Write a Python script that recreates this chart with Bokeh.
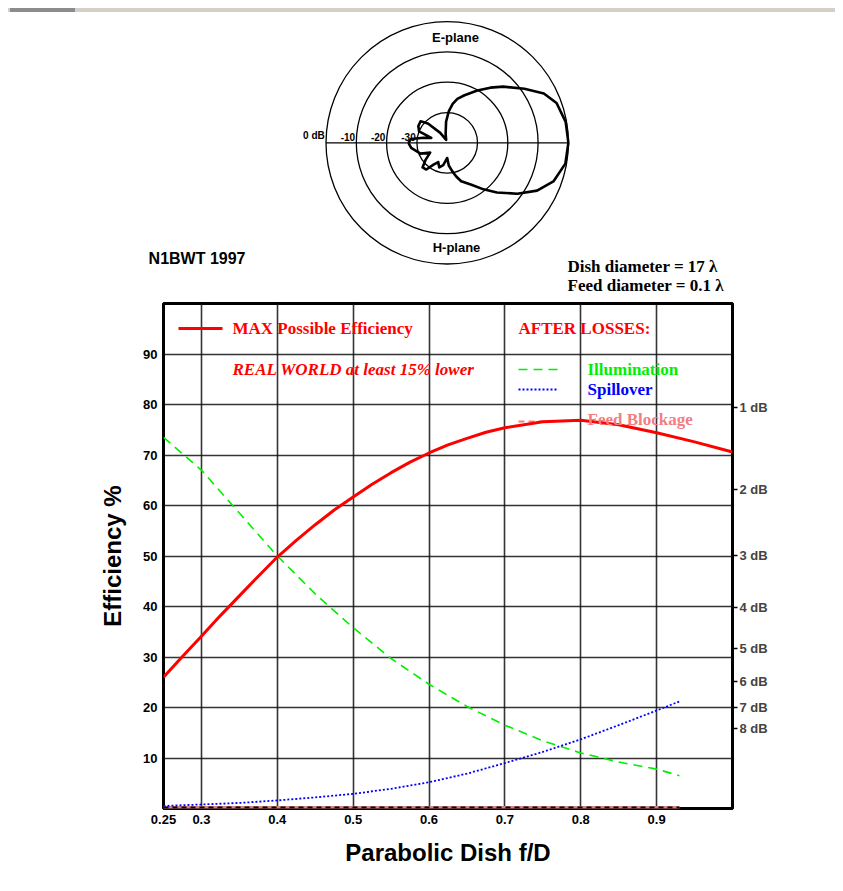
import numpy as np
from bokeh.plotting import figure
from bokeh.models import Range1d, LinearAxis, FixedTicker, Div
from bokeh.layouts import column
from bokeh.core.properties import value
from bokeh.embed import file_html
from bokeh.resources import INLINE

# ---------------- data ----------------
fd = [0.25, 0.275, 0.30, 0.325, 0.35, 0.375, 0.40, 0.425, 0.45, 0.475, 0.50, 0.525, 0.55, 0.575, 0.60,
      0.625, 0.65, 0.675, 0.70, 0.75, 0.80, 0.85, 0.90, 0.95, 1.00]
max_eff = [26.0, 30.1, 34.1, 38.2, 42.1, 46.0, 49.8, 53.1, 56.2, 59.1, 61.7, 64.2, 66.5, 68.6, 70.4,
           72.0, 73.3, 74.5, 75.4, 76.6, 76.9, 76.0, 74.4, 72.6, 70.6]

fd_loss = [0.25, 0.30, 0.35, 0.40, 0.45, 0.50, 0.55, 0.60, 0.65, 0.70, 0.75, 0.80, 0.85, 0.90, 0.93]
illumination = [73.5, 67.0, 58.5, 50.0, 42.5, 35.8, 29.7, 24.6, 20.2, 16.5, 13.4, 11.0, 9.2, 7.8, 6.5]
spillover = [0.5, 0.8, 1.1, 1.6, 2.2, 2.9, 3.9, 5.2, 6.9, 9.0, 11.2, 13.7, 16.5, 19.4, 21.2]
feed_blockage = [0.2, 0.2, 0.2, 0.2, 0.2, 0.2, 0.2, 0.2, 0.2, 0.2, 0.2, 0.2, 0.2, 0.2, 0.2]

x_ticks = [0.25, 0.3, 0.4, 0.5, 0.6, 0.7, 0.8, 0.9]
x_tick_labels = ["0.25", "0.3", "0.4", "0.5", "0.6", "0.7", "0.8", "0.9"]
x_grid = [0.3, 0.4, 0.5, 0.6, 0.7, 0.8, 0.9]
y_ticks = [10, 20, 30, 40, 50, 60, 70, 80, 90]
db_loss_ticks = [1, 2, 3, 4, 5, 6, 7, 8]

# feed pattern (angle in degrees, level in dB)
ring_db = [-30, -20, -10, 0]
ring_labels = ["-30", "-20", "-10", "0 dB"]
e_angle = [0, 10, 20, 27, 35, 45, 52, 60, 70, 77, 82, 87, 93, 100, 110, 125, 135, 141, 150, 158, 163, 168, 174, 180]
e_db = [0, -0.3, -1.6, -4.2, -8.9, -13.8, -16.9, -20.1, -23.3, -25.1, -27.0, -29.5, -33.0, -37.0, -39.0,
        -36.0, -31.0, -28.7, -29.0, -30.0, -34.5, -32.0, -28.0, -27.2]
h_angle = [0, 10, 20, 28, 36, 45, 52, 60, 70, 75, 80, 86, 90, 95, 100, 108, 115, 122, 128, 135, 142, 150,
           158, 165, 172, 180]
h_db = [0, -0.4, -2.7, -6.4, -11.4, -16.8, -20.5, -24.0, -26.5, -28.5, -30.5, -32.5, -35.0, -34.0, -32.5,
        -31.5, -33.0, -31.5, -28.8, -28.5, -31.0, -33.5, -30.5, -29.5, -28.0, -27.2]
DB_FLOOR = -40

SANS = value("Liberation Sans")
SERIF = value("Liberation Serif")

# ---------------- layout geometry (page pixels) ----------------
FRAME_L, FRAME_R = 163, 732
STRIP_H = 12
TOP_H = 288          # top figure spans page y 12..300
PX_PER_DB = 3.03
CX, CY = 446.7, 142.3


def ux(xp):
    return (xp - CX) / PX_PER_DB


def uy(yp):
    return (CY - yp) / PX_PER_DB


strip = Div(text='<div style="position:relative;width:835px;height:12px;">'
                 '<div style="position:absolute;left:8px;top:8px;width:827px;height:4px;background:#d4d0c8;"></div>'
                 '<div style="position:absolute;left:10px;top:8px;width:65px;height:4px;background:#8c8c8c;"></div>'
                 '</div>',
            width=835, height=STRIP_H, margin=0)

# ---------------- top figure: feed pattern ----------------
top = figure(frame_width=FRAME_R - FRAME_L, frame_height=TOP_H,
             x_range=Range1d(ux(FRAME_L), ux(FRAME_R)),
             y_range=Range1d(uy(STRIP_H + TOP_H), uy(STRIP_H)),
             x_axis_type=None, y_axis_type=None, toolbar_location=None, output_backend="svg",
             min_border_left=FRAME_L, min_border_right=100, min_border_top=0, min_border_bottom=0,
             outline_line_color=None)
top.xgrid.visible = False
top.ygrid.visible = False

radii = [d - DB_FLOOR for d in ring_db]
top.circle(x=[0] * len(radii), y=[0] * len(radii), radius=radii, fill_color=None,
           line_color="black", line_width=1.3)
top.line(x=[-max(radii), max(radii)], y=[0, 0], line_color="black", line_width=1.3)
top.text(x=[-(r + 0.4) for r in radii], y=[0.6] * len(radii), text=ring_labels,
         text_font=SANS, text_font_style="bold", text_font_size="10px",
         text_align="right", text_baseline="bottom", text_color="black")

ea = np.radians(e_angle)
er = np.clip(np.array(e_db) - DB_FLOOR, 0, None)
ha = np.radians(h_angle)
hr = np.clip(np.array(h_db) - DB_FLOOR, 0, None)
top.line(x=er * np.cos(ea), y=er * np.sin(ea), line_color="black", line_width=2.6, line_join="round")
top.line(x=hr * np.cos(ha), y=-hr * np.sin(ha), line_color="black", line_width=2.6, line_join="round")

top.text(x=[ux(455), ux(456)], y=[uy(37), uy(247)], text=["E-plane", "H-plane"],
         text_font=SANS, text_font_style="bold", text_font_size="13px",
         text_align="center", text_baseline="middle")
top.text(x=[ux(567), ux(567)], y=[uy(266), uy(285)],
         text=["Dish diameter = 17 \u03bb", "Feed diameter = 0.1 \u03bb"],
         text_font=SERIF, text_font_style="bold", text_font_size="17px",
         text_align="left", text_baseline="middle")

# author tag: straddles the frame edge, so it is set as a left-axis label
tag_y = uy(258)
tag_ax = LinearAxis(ticker=FixedTicker(ticks=[tag_y]), major_label_overrides={tag_y: "N1BWT 1997"})
tag_ax.axis_line_color = None
tag_ax.major_tick_out = 0
tag_ax.major_tick_in = 0
tag_ax.minor_tick_out = 0
tag_ax.minor_tick_in = 0
tag_ax.major_label_text_font = "Liberation Sans"
tag_ax.major_label_text_font_style = "bold"
tag_ax.major_label_text_font_size = "16px"
tag_ax.major_label_text_color = "black"
tag_ax.major_label_standoff = 163 - 245
top.add_layout(tag_ax, "left")

# ---------------- main figure ----------------
p = figure(frame_width=FRAME_R - FRAME_L, frame_height=505, x_range=Range1d(0.25, 1.0), y_range=Range1d(0, 100),
           toolbar_location=None, output_backend="svg",
           min_border_left=FRAME_L, min_border_top=3, min_border_right=100, min_border_bottom=75,
           outline_line_color="black", outline_line_width=3,
           x_axis_label="Parabolic Dish f/D", y_axis_label="Efficiency %")
p.background_fill_color = "white"
p.border_fill_color = "white"

p.xgrid.ticker = FixedTicker(ticks=x_grid)
p.ygrid.ticker = FixedTicker(ticks=y_ticks)
for g in (p.xgrid, p.ygrid):
    g.grid_line_color = "#111111"
    g.grid_line_width = 1.6
    g.grid_line_alpha = 0.85

p.xaxis.ticker = FixedTicker(ticks=x_ticks)
p.xaxis.major_label_overrides = {t: l for t, l in zip(x_ticks, x_tick_labels)}
p.yaxis.ticker = FixedTicker(ticks=y_ticks)
for ax in (p.xaxis, p.yaxis):
    ax.axis_line_color = None
    ax.major_tick_out = 0
    ax.major_tick_in = 0
    ax.minor_tick_out = 0
    ax.minor_tick_in = 0
    ax.major_label_text_font = "Liberation Sans"
    ax.major_label_text_font_style = "bold"
    ax.major_label_text_font_size = "13px"
    ax.major_label_text_color = "black"
    ax.major_label_standoff = 6
    ax.axis_label_text_font = "Liberation Sans"
    ax.axis_label_text_font_style = "bold"
    ax.axis_label_text_font_size = "24px"
    ax.axis_label_text_color = "black"
p.xaxis.axis_label_standoff = 12
p.yaxis.axis_label_standoff = 14

db_positions = [100 * 10 ** (-d / 10) for d in db_loss_ticks]
rax = LinearAxis(ticker=FixedTicker(ticks=db_positions),
                 major_label_overrides={t: f"{d} dB" for t, d in zip(db_positions, db_loss_ticks)})
rax.axis_line_color = None
rax.major_tick_out = 5
rax.major_tick_in = 0
rax.minor_tick_out = 0
rax.minor_tick_in = 0
rax.major_tick_line_color = "black"
rax.major_tick_line_width = 1.5
rax.major_label_text_font = "Liberation Sans"
rax.major_label_text_font_style = "bold"
rax.major_label_text_font_size = "13px"
rax.major_label_standoff = 2
p.add_layout(rax, "right")


def dx(xp):
    return 0.25 + (xp - FRAME_L) * 0.75 / (FRAME_R - FRAME_L)


def dy(yp):
    return 100 - (yp - 303) * 100 / 505


# curves
p.line(fd_loss, feed_blockage, line_color="#d98080", line_width=3)
p.line(fd_loss, feed_blockage, line_color="black", line_width=2, line_dash="5 4")
p.line(dx(np.array([518, 558])), [dy(421)] * 2, line_color="#f08080", line_width=2, line_dash="6 4")
p.line(fd_loss, illumination, line_color="#00ee00", line_width=1.6, line_dash="9 6", line_join="round")
p.line(fd_loss, spillover, line_color="#0000ff", line_width=1.8, line_dash="2 2", line_join="round")
p.line(fd, max_eff, line_color="#ff0000", line_width=3, line_join="round")

# legend
p.line(dx(np.array([178, 222])), [dy(328)] * 2, line_color="#ff0000", line_width=3)
p.line(dx(np.array([518, 558])), [dy(369)] * 2, line_color="#00ee00", line_width=1.6, line_dash="9 6")
p.line(dx(np.array([518, 558])), [dy(389)] * 2, line_color="#0000ff", line_width=1.8, line_dash="2 2")
p.text(x=[dx(232), dx(518)], y=[dy(328)] * 2, text=["MAX Possible Efficiency", "AFTER LOSSES:"],
       text_font=SERIF, text_font_style="bold", text_font_size="17px", text_color="#ff0000",
       text_align="left", text_baseline="middle")
p.text(x=[dx(232)], y=[dy(369)], text=["REAL WORLD at least 15% lower"],
       text_font=SERIF, text_font_style="bold italic", text_font_size="17px", text_color="#ff0000",
       text_align="left", text_baseline="middle")
p.text(x=[dx(587)] * 3, y=[dy(369), dy(389), dy(419)], text=["Illumination", "Spillover", "Feed Blockage"],
       text_font=SERIF, text_font_style="bold", text_font_size="17px",
       text_color=["#00ee00", "#0000ff", "#f08080"], text_align="left", text_baseline="middle")

layout = column(strip, top, p, spacing=0)
open("out.html", "w").write(file_html(layout, INLINE))
